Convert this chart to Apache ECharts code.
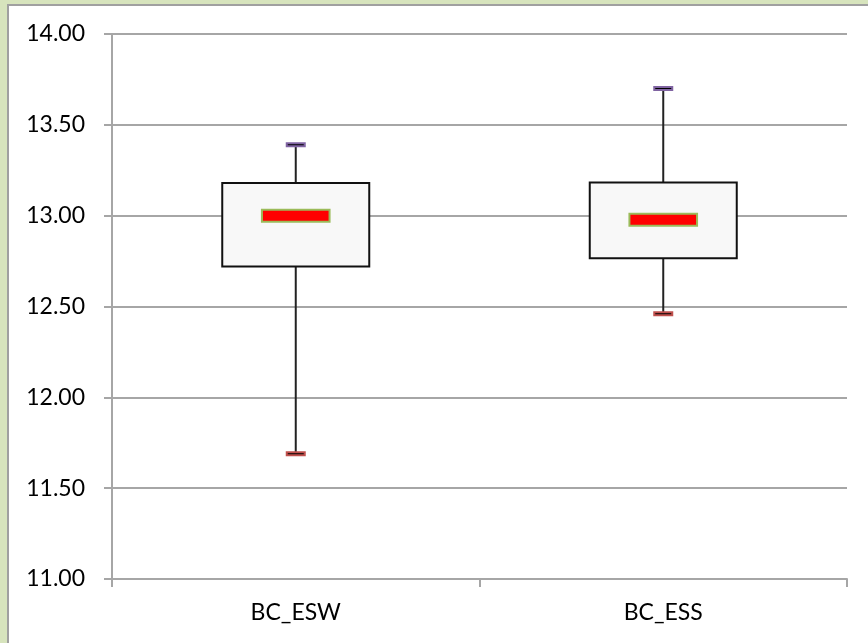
<!DOCTYPE html>
<html>
<head>
<meta charset="utf-8">
<script src="https://cdn.jsdelivr.net/npm/echarts@6/dist/echarts.min.js"></script>
<style>
html,body{margin:0;padding:0;background:#d7e4bd;}
#c{width:868px;height:643px;}
</style>
</head>
<body>
<div id="c"></div>
<script>
const categories = ['BC_ESW', 'BC_ESS'];
const minValues = [11.69, 12.46];
const q1Values = [12.72, 12.765];
const medianValues = [13.0, 12.978];
const q3Values = [13.18, 13.183];
const maxValues = [13.39, 13.70];
const yTicks = { min: 11, max: 14, interval: 0.5 };

const data = categories.map((c, i) => [i, minValues[i], q1Values[i], medianValues[i], q3Values[i], maxValues[i]]);

const chart = echarts.init(document.getElementById('c'));
const FONT = 'Lato';
const GRID_COLOR = '#a6a6a6';

function renderItem(params, api) {
  const x = api.value(0);
  const band = api.size([1, 0])[0];
  const boxW = band * 0.4;
  const medW = band * 0.184;
  const medH = 12;
  const pMin = api.coord([x, api.value(1)]);
  const pQ1 = api.coord([x, api.value(2)]);
  const pMed = api.coord([x, api.value(3)]);
  const pQ3 = api.coord([x, api.value(4)]);
  const pMax = api.coord([x, api.value(5)]);
  const cx = pMed[0];
  return {
    type: 'group',
    children: [
      { type: 'line', shape: { x1: cx, y1: pMax[1], x2: cx, y2: pQ3[1] }, style: { stroke: '#222', lineWidth: 2 } },
      { type: 'line', shape: { x1: cx, y1: pQ1[1], x2: cx, y2: pMin[1] }, style: { stroke: '#222', lineWidth: 2 } },
      { type: 'rect', shape: { x: cx - boxW / 2, y: pQ3[1], width: boxW, height: pQ1[1] - pQ3[1] }, style: { fill: '#f8f8f8', stroke: '#111', lineWidth: 2 } },
      { type: 'rect', shape: { x: cx - medW / 2, y: pMed[1] - medH / 2, width: medW, height: medH }, style: { fill: '#ff0000', stroke: '#9bbb59', lineWidth: 2 } },
      { type: 'rect', shape: { x: cx - 9, y: pMax[1] - 1.5, width: 18, height: 3 }, style: { fill: '#000', stroke: '#8064a2', lineWidth: 2 } },
      { type: 'rect', shape: { x: cx - 9, y: pMin[1] - 1.5, width: 18, height: 3 }, style: { fill: '#000', stroke: '#c0504d', lineWidth: 2 } }
    ]
  };
}

chart.setOption({
  animation: false,
  backgroundColor: 'transparent',
  graphic: [{
    type: 'rect', z: -10, silent: true,
    shape: { x: 8, y: 5, width: 880, height: 660 },
    style: { fill: '#ffffff', stroke: '#a0a0a0', lineWidth: 2 }
  }],
  grid: { left: 112, right: 21, top: 34, bottom: 64 },
  xAxis: {
    type: 'category',
    data: categories,
    boundaryGap: true,
    axisLine: { lineStyle: { color: GRID_COLOR, width: 2 } },
    axisTick: { show: true, length: 8, lineStyle: { color: GRID_COLOR, width: 2 } },
    axisLabel: { color: '#000', fontFamily: FONT, fontSize: 23, margin: 22 },
    splitLine: { show: false }
  },
  yAxis: {
    type: 'value',
    min: yTicks.min, max: yTicks.max, interval: yTicks.interval,
    axisLine: { show: true, lineStyle: { color: GRID_COLOR, width: 2 } },
    axisTick: { show: true, length: 8, lineStyle: { color: GRID_COLOR, width: 2 } },
    axisLabel: { color: '#000', fontFamily: FONT, fontSize: 23, margin: 27, formatter: v => v.toFixed(2) },
    splitLine: { show: true, lineStyle: { color: GRID_COLOR, width: 2 } }
  },
  series: [{
    type: 'custom',
    renderItem: renderItem,
    encode: { x: 0, y: [1, 2, 3, 4, 5] },
    data: data
  }]
});
</script>
</body>
</html>
